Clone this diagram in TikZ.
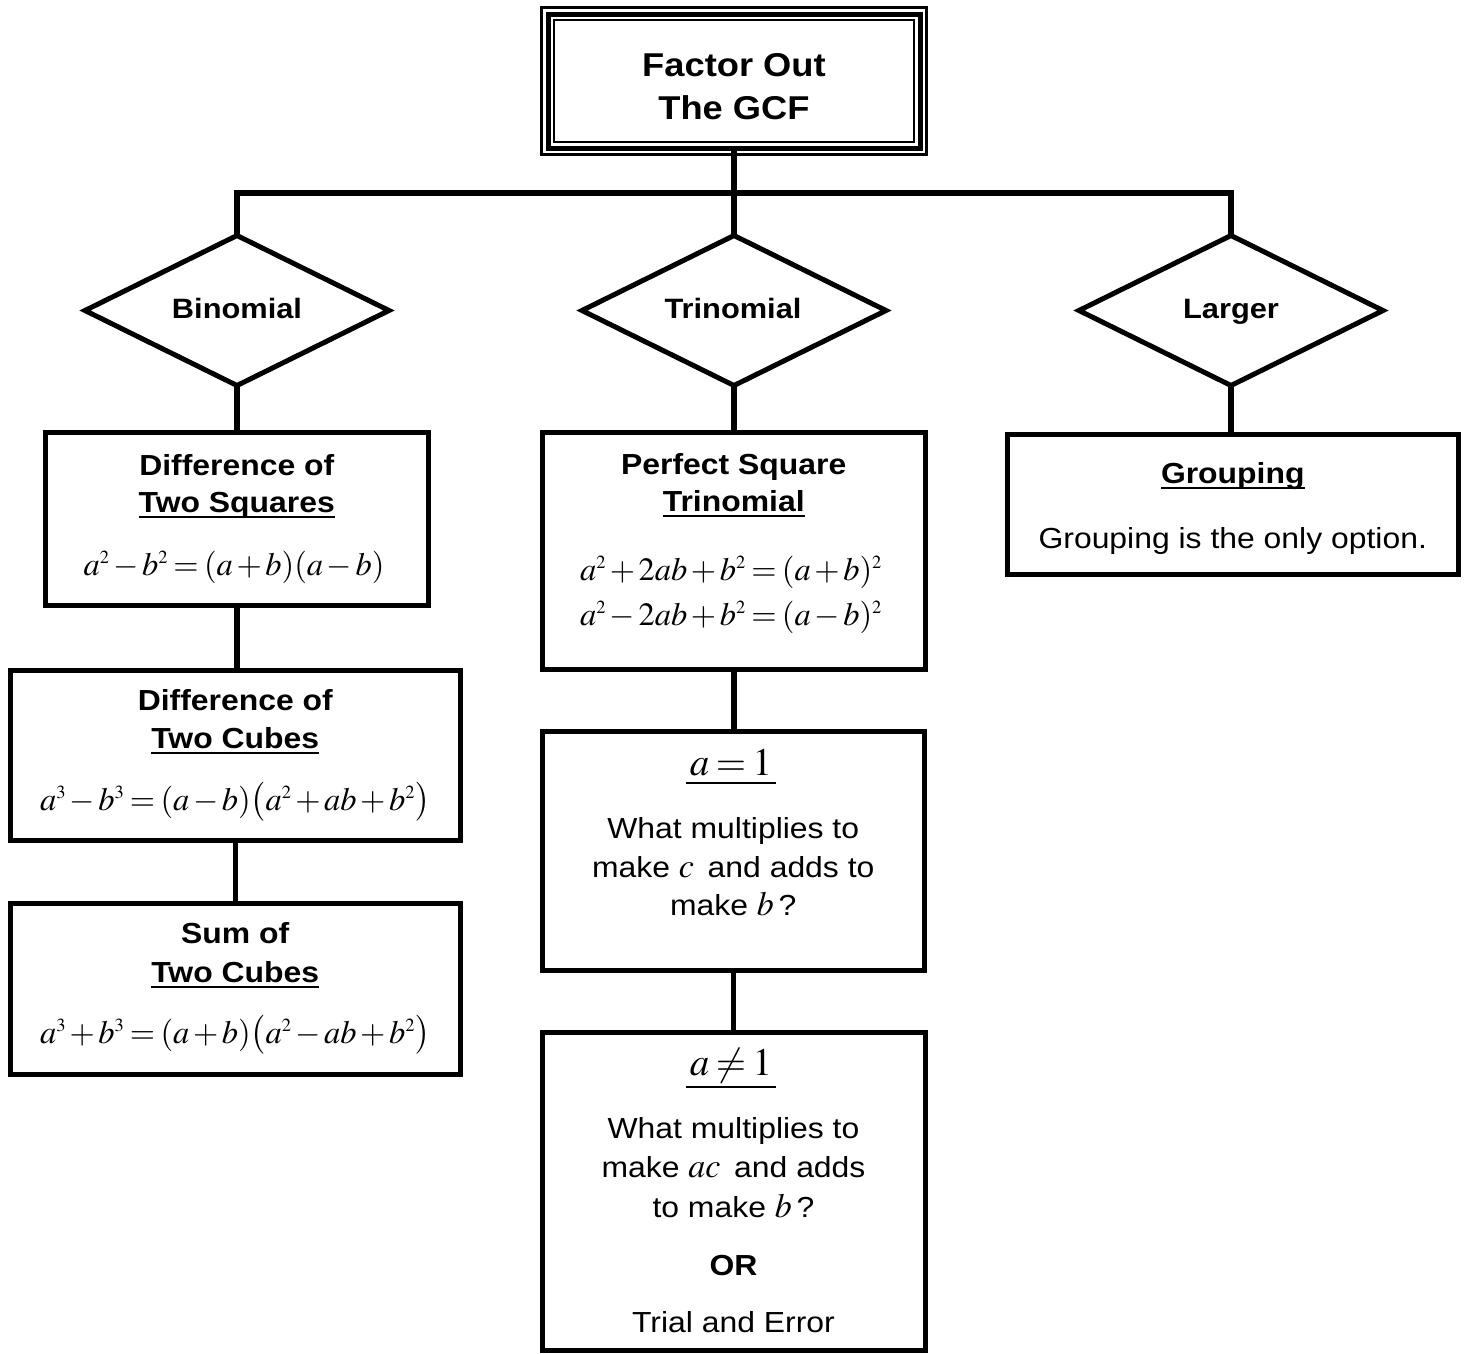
\documentclass[tikz,border=0pt]{standalone}
\usepackage{amsmath}
\usepackage{mathptmx}
\usepackage[no-math]{fontspec}
\setmainfont{Liberation Sans}[FakeStretch=1.1]
\usetikzlibrary{shapes.geometric}
\DeclareMathSizes{32.5}{32.5}{18.5}{14}
\DeclareMathSizes{34}{34}{19}{14}
\DeclareMathSizes{39}{39}{22}{16}
\newcommand\msp{\medmuskip=2mu\thickmuskip=3mu}
\newcommand\tfont{\fontsize{33}{40}\selectfont\bfseries}
\newcommand\dfont{\fontsize{28}{34}\selectfont\bfseries}
\newcommand\hfont{\fontsize{29}{35}\selectfont\bfseries}
\newcommand\nfont{\fontsize{29}{35}\selectfont}
\newcommand\mfont{\fontsize{32.5}{39}\selectfont\msp}
\newcommand\ifont{\fontsize{34}{40}\selectfont\msp}
\newcommand\bmfont{\fontsize{39}{46}\selectfont\msp}
\newcommand\iv[1]{{\ifont$#1$}}
\newcommand\ul[1]{\setbox0\hbox{#1}\rlap{\rule[-6pt]{\wd0}{2pt}}\box0}
\newcommand\mul[2]{\setbox0\hbox{#2}\rlap{\kern-4pt\rule[-#1]{\dimexpr\wd0+8pt\relax}{1.8pt}}\box0}
\begin{document}
\begin{tikzpicture}[x=1pt,y=-1pt,
  box/.style={draw, line width=5pt, inner sep=0pt, outer sep=0pt},
  dia/.style={draw, diamond, line width=5pt, inner sep=0pt, outer sep=0pt,
              minimum width=304pt, minimum height=150pt},
  conn/.style={line width=5.5pt, line join=miter},
  txt/.style={anchor=base, inner sep=0pt, outer sep=0pt, font=\nfont},
  head/.style={txt, font=\hfont},
  frm/.style={txt, font=\mfont}]
\useasboundingbox (0,0) rectangle (1468,1353);

% title box with triple border
\node[box, minimum width=372pt, minimum height=134pt] (gcf) at (734,81) {};
\draw[line width=2.5pt] ([shift={(-6.5,-6.5)}]gcf.north west) rectangle ([shift={(6.5,6.5)}]gcf.south east);
\draw[line width=2.5pt] ([shift={(6,6)}]gcf.north west) rectangle ([shift={(-6,-6)}]gcf.south east);
\node[txt, font=\tfont] (t1) at (734,76) {Factor Out};
\node[txt, font=\tfont] (t2) at (734,119) {The GCF};

% diamonds
\node[dia] (bin) at (237,310.5) {};
\node[dia] (tri) at (734,310.5) {};
\node[dia] (lar) at (1231,310.5) {};
\node[txt, font=\dfont] (binl) at (237,318) {Binomial};
\node[txt, font=\dfont] (tril) at (733,318) {Trinomial};
\node[txt, font=\dfont] (larl) at (1231,318) {Larger};

% boxes
\node[box, minimum width=383.5pt, minimum height=173pt] (sq) at (236.75,519) {};
\node[box, minimum width=450.5pt, minimum height=169.5pt] (cu) at (235.25,755.25) {};
\node[box, minimum width=450.5pt, minimum height=171.5pt] (sm) at (235.25,988.75) {};
\node[box, minimum width=382.5pt, minimum height=237pt] (ps) at (733.75,550.5) {};
\node[box, minimum width=382.5pt, minimum height=239pt] (a1) at (733.25,850.5) {};
\node[box, minimum width=383pt, minimum height=318pt] (an) at (733.5,1191) {};
\node[box, minimum width=450.5pt, minimum height=140pt] (gr) at (1232.75,504.5) {};

% connectors
\coordinate (hub) at (734,193);
\draw[conn] (gcf.south) -- (hub);
\draw[conn] (bin.north) |- (lar.north |- hub) -- (lar.north);
\draw[conn] (hub) -- (tri.north);
\draw[conn] (bin.south) -- (bin.south |- sq.north);
\draw[conn] (sq.south) -- (sq.south |- cu.north);
\draw[conn] (cu.south) -- (cu.south |- sm.north);
\draw[conn] (tri.south) -- (tri.south |- ps.north);
\draw[conn] (ps.south) -- (ps.south |- a1.north);
\draw[conn] (a1.south) -- (a1.south |- an.north);
\draw[conn] (lar.south) -- (lar.south |- gr.north);

% Difference of two squares
\node[head] (sq1) at (236.75,475) {Difference of};
\node[head] (sq2) at (236.75,512) {\ul{Two Squares}};
\node[frm] (sq3) at (234,575) {$a^2-b^2=(a+b)(a-b)$};

% Difference of two cubes
\node[head] (cu1) at (235.25,710) {Difference of};
\node[head] (cu2) at (235.25,748) {\ul{Two Cubes}};
\node[frm] (cu3) at (235,810) {$a^3-b^3=(a-b)\bigl(a^2+ab+b^2\bigr)$};

% Sum of two cubes
\node[head] (sm1) at (235.25,943) {Sum of};
\node[head] (sm2) at (235.25,982) {\ul{Two Cubes}};
\node[frm] (sm3) at (235,1043) {$a^3+b^3=(a+b)\bigl(a^2-ab+b^2\bigr)$};

% Perfect square trinomial
\node[head] (ps1) at (733.75,474) {Perfect Square};
\node[head] (ps2) at (733.75,511) {\ul{Trinomial}};
\node[frm] (ps3) at (731,580) {$a^2+2ab+b^2=(a+b)^2$};
\node[frm] (ps4) at (731,625) {$a^2-2ab+b^2=(a-b)^2$};

% a = 1
\node[txt, font=\bmfont] (a11) at (731,775) {\mul{9pt}{$a=1$}};
\node[txt] (a12) at (733.25,838) {What multiplies to};
\node[txt] (a13) at (733.25,877) {make \iv{c}\, and adds to};
\node[txt] (a14) at (733.25,915) {make \iv{b}\,?};

% a != 1
\node[txt, font=\bmfont] (an1) at (731,1075) {\mul{13pt}{$a\neq1$}};
\node[txt] (an2) at (733.5,1138) {What multiplies to};
\node[txt] (an3) at (733.5,1177) {make \iv{ac}\, and adds};
\node[txt] (an4) at (733.5,1217) {to make \iv{b}\,?};
\node[head] (an5) at (733.5,1275) {OR};
\node[txt] (an6) at (733.5,1332) {Trial and Error};

% Grouping
\node[head] (gr1) at (1232.75,483) {\ul{Grouping}};
\node[txt] (gr2) at (1232.75,548) {Grouping is the only option.};
\end{tikzpicture}
\end{document}
